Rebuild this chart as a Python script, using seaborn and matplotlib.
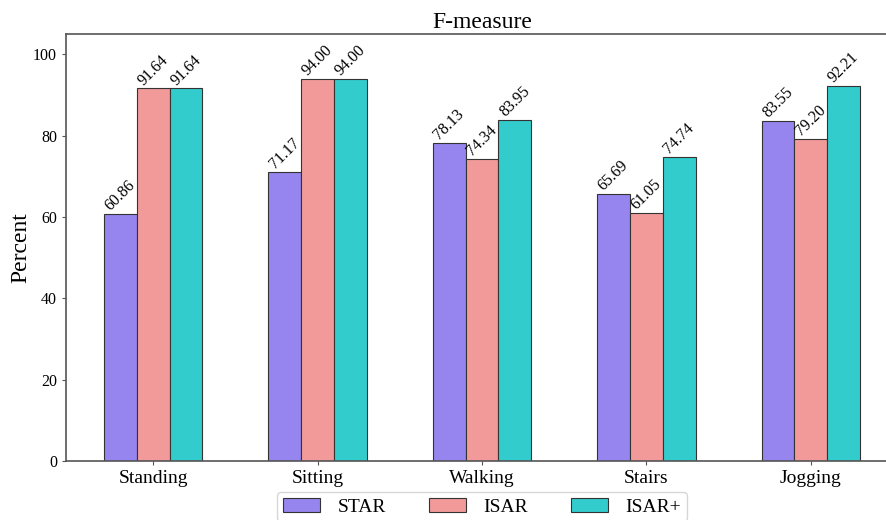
import pandas as pd
import matplotlib
matplotlib.use('Agg')
import matplotlib.pyplot as plt
import seaborn as sns

# Data
activities = ['Standing', 'Sitting', 'Walking', 'Stairs', 'Jogging']
models = ['STAR', 'ISAR', 'ISAR+']
star = [60.86, 71.17, 78.13, 65.69, 83.55]
isar = [91.64, 94.00, 74.34, 61.05, 79.20]
isar_plus = [91.64, 94.00, 83.95, 74.74, 92.21]
colors = ['#9685ee', '#f29a9a', '#33cccc']

df = pd.DataFrame({
    'Activity': activities * 3,
    'Model': [m for m in models for _ in activities],
    'Value': star + isar + isar_plus,
})

sns.set_style('ticks')
plt.rcParams['font.family'] = ['Liberation Serif', 'DejaVu Serif']
plt.rcParams['text.color'] = 'black'
plt.rcParams['xtick.color'] = 'black'
plt.rcParams['ytick.color'] = 'black'
plt.rcParams['axes.labelcolor'] = 'black'

fig = plt.figure(figsize=(8.87, 5.2), dpi=100)
ax = fig.add_axes([66 / 887, 59 / 520, 832 / 887, 427 / 520])

sns.barplot(data=df, x='Activity', y='Value', hue='Model', palette=colors,
            saturation=1, width=0.6, edgecolor='#333333', linewidth=0.8, ax=ax)

for c in ax.containers:
    ax.bar_label(c, fmt='%.2f', rotation=45, padding=0, fontsize=11.5, color='black')

ax.set_xlim(-0.53, 4.53)
ax.set_ylim(0, 105)
ax.set_title('F-measure', fontsize=17, pad=4)
ax.set_xlabel('')
ax.set_ylabel('Percent', fontsize=17, labelpad=1)
ax.tick_params(axis='x', labelsize=14, length=3, color='#555555')
ax.tick_params(axis='y', labelsize=11.5, length=3, color='#555555')
for s in ax.spines.values():
    s.set_color('#555555')
    s.set_linewidth(1.2)
ax.spines['right'].set_visible(False)

ax.legend(loc='upper center', bbox_to_anchor=(0.5, -0.05), ncol=3,
          fontsize=14, frameon=True, handlelength=1.9, handletextpad=0.9,
          columnspacing=2.2, borderpad=0.3)

fig.savefig('out.png', dpi=100)
